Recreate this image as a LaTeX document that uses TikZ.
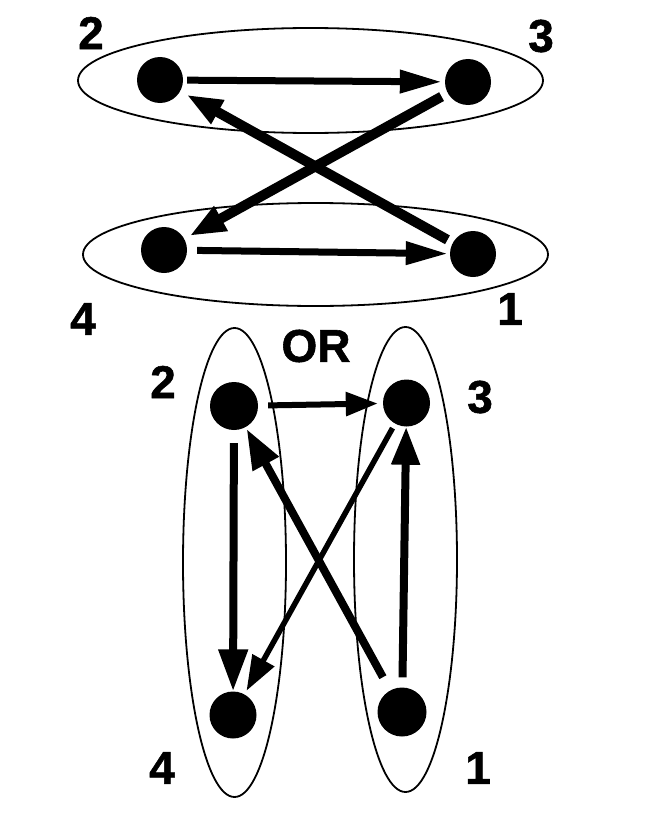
\documentclass[tikz,border=0pt]{standalone}
\usepackage{fontspec}
\setmainfont{Liberation Sans}
\newfontfamily\heavyfont{Liberation Sans Bold}[FakeBold=1.2]
\usetikzlibrary{arrows.meta}
\tikzset{
  dot/.style={circle,fill=black,inner sep=0pt,minimum size=#1},
  dot/.default=46pt,
  lbl/.style={inner sep=0pt,font=\heavyfont\bfseries\fontsize{46}{46}\selectfont},
  ring/.style={line width=1.8pt},
  arr/.style n args={3}{line width=#1,-{Triangle[length=#2,width=#3]}},
}
\begin{document}
\begin{tikzpicture}[x=1pt,y=-1pt]
\useasboundingbox (0,0) rectangle (670,816);
% ellipses
\draw[ring] (310.5,80.5) ellipse [x radius=232.5pt,y radius=52.5pt];
\draw[ring] (315.5,254.5) ellipse [x radius=232.5pt,y radius=51.5pt];
\draw[ring] (234.5,562.5) ellipse [x radius=51.5pt,y radius=234.5pt];
\draw[ring] (405.5,559.5) ellipse [x radius=51.5pt,y radius=232.5pt];
% top dots
\node[dot] (t2) at (160,80) {};
\node[dot] (t3) at (468,82) {};
\node[dot] (t4) at (164,250) {};
\node[dot] (t1) at (473,254) {};
% bottom dots
\node[dot=48pt] (b2) at (234,406) {};
\node[dot=47pt] (b3) at (406.5,403) {};
\node[dot=47pt] (b4) at (233,715) {};
\node[dot=49pt] (b1) at (402,712) {};
% labels
\node[lbl] (l2) at (91,33) {2};
\node[lbl] (l3) at (541,36) {3};
\node[lbl] (l4) at (83,319) {4};
\node[lbl] (l1) at (510,309) {1};
\node[lbl] (m2) at (163,382) {2};
\node[lbl] (m3) at (480,397) {3};
\node[lbl] (m4) at (162,768) {4};
\node[lbl] (m1) at (478,768) {1};
\node[lbl] (or) at (316,346) {OR};
% top arrows
\draw[arr={7pt}{42pt}{22pt},shorten <=4pt,shorten >=3pt] (t2) -- (t3);
\draw[arr={7pt}{42pt}{22pt},shorten <=10pt,shorten >=2pt] (t4) -- (t1);
\draw[arr={10pt}{36pt}{26pt},shorten <=7pt,shorten >=6pt] (t3) -- (t4);
\draw[arr={10pt}{36pt}{25pt},shorten <=6pt,shorten >=7pt] (t1) -- (t2);
% bottom arrows
\draw[arr={6pt}{32pt}{23pt},shorten <=10pt,shorten >=5pt] (b2) -- (b3);
\draw[arr={8pt}{42pt}{28pt},shorten <=13pt,shorten >=0pt] (b2) -- (b4);
\draw[arr={8pt}{38pt}{27pt},shorten <=10pt,shorten >=0pt] (b1) -- (b3);
\draw[arr={8pt}{40pt}{28pt},shorten <=15pt,shorten >=2pt] (b1) -- (b2);
\draw[arr={5.5pt}{35pt}{24pt},shorten <=5pt,shorten >=4pt] (b3) -- (b4);
\end{tikzpicture}
\end{document}
